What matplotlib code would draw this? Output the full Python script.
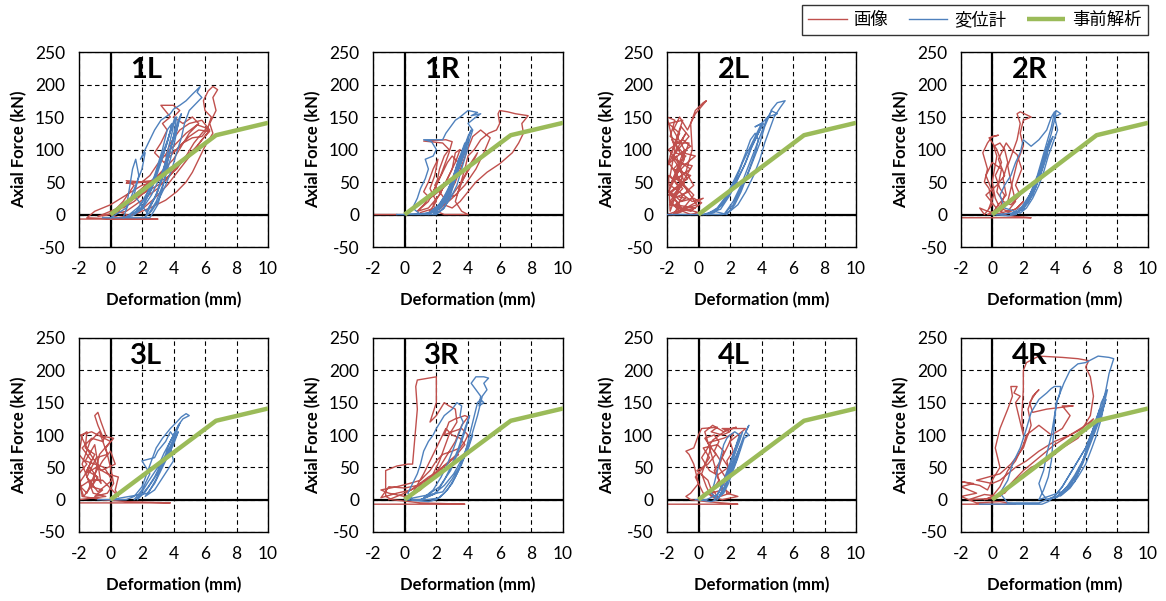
import matplotlib
matplotlib.use('Agg')
import matplotlib.pyplot as plt

plt.rcParams['font.family'] = ['Lato', 'Noto Sans CJK JP', 'DejaVu Sans']
plt.rcParams['axes.unicode_minus'] = False

# ---- data (deformation mm, axial force kN) ----
panel_names = ['1L', '1R', '2L', '2R', '3L', '3R', '4L', '4R']

analysis_x = [0, 6.7, 10]
analysis_y = [0, 122, 141]

nan = float('nan')

red_1L = [(-2,-7),(3,-7),(0.5,-7),(-1.5,-5),(-1,5),(0,15),(1,30),(2,45),(2.8,50),(3.5,55),(4.2,70),(4.8,90),
          (5.3,110),(5.8,125),(6.2,135),(6.4,150),(6.0,160),(5.9,175),(6.2,190),(6.5,197),(6.8,192),(6.5,180),
          (6.7,160),(6.3,140),(6.5,125),(6.0,105),(5.6,85),(5.2,65),(4.8,50),(4.2,35),(3.5,22),(2.5,10),(1.5,0),
          (0.5,-5),(0,0),(0.8,20),(1.5,45),(1,52),(2,50),(2.5,60),(3.0,78),(3.6,95),(4.2,110),(4.8,125),(5.5,138),
          (6.2,132),(5.8,120),(5.2,118),(4.6,110),(4.0,95),(3.4,80),(2.8,95),(3.2,110),(3.6,130),(3.3,140),
          (3.8,150),(3.2,168),(4.0,168),(4.4,160),(4.0,150),(4.6,140),(5.2,150),(5.6,140),(5.0,125),(4.5,105),
          (4.0,85),(3.2,65),(2.5,45),(1.8,30),(1.0,15),(0.2,2),(-0.8,-3),(0.5,10),(1.5,25),(2.5,38),(3.5,52),
          (4.5,80),(5.5,100),(6.0,110),(5.2,95),(4.4,70),(3.6,45),(2.8,25),(2.0,8),(1.2,-2),(0.5,5),(1.5,30),
          (2.5,50),(1.0,48),(2.6,52),(3.5,70),(3.0,55),(2.2,35),(1.5,20),(0.8,10),(2.0,40),(3.0,60),(4.0,75),
          (5.0,90),(5.8,115),(6.3,128),(5.6,130),(5.0,120),(4.2,100),(3.5,90),(3.8,110),(4.4,130),(5.0,140),
          (5.8,145),(6.3,130),(5.5,105),(4.6,85),(3.8,62),(3.0,40),(2.0,22),(1.0,5),(-0.5,-2)]
blue_1L = [(-0.5,-5),(2.5,-5),(3.0,15),(3.4,50),(3.7,90),(4.0,120),(4.3,145),(4.5,155),(4.2,130),(3.8,100),
           (3.2,60),(2.6,30),(2.0,8),(1.4,-2),(0.8,-5),(1.2,20),(1.6,45),(2.0,70),(2.2,95),(1.9,85),(2.4,110),
           (2.8,130),(3.2,145),(3.8,155),(4.0,162),(4.4,168),(4.8,175),(5.2,185),(5.7,197),(5.5,188),(5.8,180),
           (5.4,170),(5.0,160),(4.7,140),(4.5,118),(4.2,95),(3.9,70),(3.5,45),(3.0,20),(2.6,5),(2.2,-4),(2.9,30),
           (3.3,60),(3.6,95),(3.9,125),(4.1,150),(3.8,128),(3.4,95),(3.0,65),(2.6,38),(2.0,12),(1.5,0),(2.2,25),
           (2.8,60),(3.3,100),(3.6,130),(3.9,140),(3.6,110),(3.1,75),(2.5,40),(1.8,12),(1.0,-4),(2.0,10),
           (2.6,40),(3.0,70),(3.4,100),(3.7,120),(3.9,135),(4.2,150),(4.0,120),(3.7,90),(3.3,55),(2.8,25),
           (2.3,5),(3.0,35),(3.5,75),(3.9,110),(4.3,140),(4.1,115),(3.8,85),(3.4,50),(2.9,20),(2.4,0),(1.5,30),
           (1.8,60),(1.6,85),(1.4,70),(1.2,40),(1.0,10),(0.0,-5)]

red_1R = [(-2,0),(-0.5,0),(nan,nan),(0.8,5),(1.5,20),(2.0,45),(2.2,70),(2.5,90),(2.8,100),(2.4,110),(1.2,113),
          (2.6,115),(3.0,112),(2.8,95),(2.5,75),(2.2,55),(1.8,35),(1.2,15),(0.8,5),(1.5,10),(2.2,30),(2.6,50),
          (3.0,70),(3.2,95),(3.5,100),(3.2,80),(2.8,60),(2.3,35),(1.8,15),(2.0,5),(2.5,0),(4.0,0),(3.6,5),
          (3.2,20),(3.5,45),(3.8,70),(4.0,90),(4.4,100),(4.8,115),(5.3,125),(5.8,130),(6.0,140),(5.9,155),
          (6.0,160),(6.5,158),(7.0,155),(7.8,152),(7.4,140),(7.5,125),(7.2,110),(6.8,95),(6.0,78),(5.2,65),
          (4.5,50),(4.0,35),(3.5,20),(3.0,10),(2.5,15),(2.8,30),(3.2,50),(3.6,75),(3.9,95),(4.3,120),(4.8,130),
          (5.4,118),(5.0,95),(4.5,70),(3.8,45),(3.0,25),(2.2,8),(1.5,2),(2.0,20),(1.6,40),(1.9,60),(2.1,85),
          (1.8,70),(1.5,50),(1.2,35),(1.6,25),(2.4,40),(3.0,55),(3.4,80),(3.0,90),(2.7,80),(2.3,60),(1.9,45),
          (2.5,25),(3.3,30),(3.7,55),(4.2,80),(4.6,95),(4.2,75),(3.6,50),(3.0,30),(2.2,12),(1.0,3)]
blue_1R = [(-0.5,0),(1.5,0),(2.0,0),(2.5,10),(2.9,30),(3.2,55),(3.5,80),(3.8,100),(4.0,115),(3.8,95),(3.4,70),
           (3.0,45),(2.5,20),(2.0,5),(1.0,0),(0.5,10),(0.8,25),(1.0,40),(1.3,55),(1.5,70),(1.3,85),(1.8,90),
           (2.0,100),(1.7,112),(1.2,115),(2.4,115),(2.6,125),(2.9,135),(3.2,145),(3.5,150),(4.0,160),(4.6,157),
           (4.2,152),(4.8,155),(4.4,148),(4.0,140),(4.3,130),(4.1,115),(3.9,95),(3.6,70),(3.3,45),(2.9,25),
           (2.4,8),(1.8,0),(2.6,20),(3.0,45),(3.4,75),(3.7,100),(4.0,120),(4.2,130),(3.9,110),(3.6,85),(3.2,55),
           (2.8,30),(2.3,10),(1.5,0),(2.2,15),(2.7,35),(3.1,60),(3.5,90),(3.8,110),(3.6,90),(3.2,65),(2.8,40),
           (2.4,20),(1.9,5),(2.5,28),(3.0,52),(3.4,85),(3.9,105),(3.5,75),(3.0,48),(2.5,22),(1.5,2),(0,0)]

red_2L = [(-2,0),(-1.5,0),(-1,5),(-0.5,0),(0,3),(-1.8,15),(-1.2,40),(-1.8,60),(-1.5,100),(-2,150),(-1.5,145),
          (-1.8,120),(-1.2,110),(-0.8,125),(-1.5,95),(-0.8,90),(-1.6,70),(-0.5,60),(-1.2,45),(-1.9,30),(-0.8,25),
          (-1.5,15),(-0.2,10),(-1.2,5),(-1.8,20),(-1.0,50),(-0.4,75),(-1.3,80),(-1.9,100),(-1.0,115),(-0.5,105),
          (-1.6,85),(-0.7,55),(-1.8,35),(-1.1,20),(-0.3,25),(0.2,18),(-0.5,5),(-1.4,10),(-1.0,30),(-0.3,45),
          (-0.8,65),(-0.4,100),(-0.5,140),(-0.2,160),(0.3,172),(0.5,175),(-0.2,155),(-0.7,130),(-1.2,150),
          (-1.6,130),(-0.9,100),(-1.7,50),(-1.0,60),(-1.8,5),(-1.9,60),(-1.0,40),(-1.6,25),(-0.6,35),(-1.4,55),
          (-0.5,70),(-1.8,90),(-1.2,125),(-1.9,140),(-1.0,145),(-1.5,110),(-0.6,110),(-1.2,75),(-1.8,45),
          (-0.4,20),(0.3,25),(-0.8,10),(-1.6,0),(-1.2,15),(-1.9,35),(-1.3,65),(-0.9,85),(-1.7,115),(-1.0,95),
          (-0.2,90),(-0.7,80),(-1.5,60),(-0.3,30),(-1.0,8),(-1.7,28),(-0.9,48),(-1.4,90),(-2,75),(-1.1,135),
          (-0.6,120),(-1.3,100),(-1.9,80),(-0.8,40),(-0.1,15),(-2,0)]
blue_2L = [(-2,0),(0,0),(1.5,0),(2.0,5),(2.5,15),(3.0,35),(3.5,60),(3.9,85),(4.2,110),(4.5,130),(4.8,150),
           (5.2,165),(5.5,175),(5.0,172),(4.6,160),(5.0,155),(4.4,150),(4.0,140),(3.6,135),(4.0,140),(3.6,120),
           (3.2,100),(2.8,80),(2.4,55),(2.0,35),(1.5,15),(1.0,3),(0.5,0),(1.2,10),(1.8,30),(2.2,50),(2.6,70),
           (3.0,95),(3.3,115),(3.6,125),(3.8,115),(3.6,95),(3.3,75),(3.0,55),(2.6,35),(2.2,15),(1.7,3),(2.2,20),
           (2.7,45),(3.1,70),(3.5,95),(3.9,120),(4.3,145),(4.6,158),(4.2,135),(3.9,110),(3.5,85),(3.1,60),
           (2.7,35),(2.3,15),(1.8,0),(1.0,5),(1.8,25),(2.4,50),(2.9,75),(3.3,100),(3.7,120),(4.1,140),(3.8,125),
           (3.4,105),(3.0,80),(2.5,55),(2.0,30),(1.4,8),(0.3,0)]

red_2R = [(-2,-5),(2.5,-5),(1.5,-3),(0.5,0),(-0.3,5),(-0.8,10),(-0.5,0),(0,15),(-0.2,40),(-0.5,50),(-0.3,70),
          (-0.6,95),(-0.3,110),(0,120),(0.4,122),(-0.2,118),(0.3,100),(0.6,80),(0.2,60),(0.5,40),(0.8,30),
          (0.5,10),(1.0,5),(1.5,20),(1.2,50),(1.0,75),(1.3,95),(1.6,115),(1.8,140),(1.6,155),(1.8,158),
          (2.5,150),(2.0,145),(1.8,125),(2.0,105),(1.6,80),(1.4,60),(1.2,40),(1.0,20),(0.6,5),(0.2,25),(0.0,50),
          (0.3,90),(0.1,105),(0.5,110),(0.8,100),(1.0,80),(0.7,55),(0.9,30),(0.4,15),(0.1,5),(-0.3,0),(0.5,2),
          (1.5,8),(2.0,20),(1.6,10),(0.8,0),(0.2,12),(-0.4,30),(0.3,45),(0.8,60),(0.4,85),(0.9,110),(1.2,100),
          (1.6,92),(1.9,70),(1.5,45),(1.8,30),(1.2,15),(0.7,20),(0.3,35),(0.6,70),(0.0,80),(-0.4,60),(0.1,30),
          (-0.2,10)]
blue_2R = [(0,0),(1.0,-2),(1.5,0),(2.0,10),(2.5,30),(2.9,55),(3.2,80),(3.5,100),(3.8,125),(4.0,145),(4.1,160),
           (4.4,155),(4.0,150),(4.2,130),(3.9,110),(3.6,90),(3.3,65),(3.0,45),(2.6,25),(2.2,10),(1.8,2),(0.8,10),
           (0.5,30),(0.8,45),(1.2,60),(1.5,80),(1.8,95),(2.0,115),(2.5,105),(3.0,115),(3.5,130),(3.8,150),
           (4.0,158),(3.8,135),(3.5,110),(3.2,85),(2.9,60),(2.5,35),(2.1,15),(1.5,0),(2.3,20),(2.7,45),(3.1,70),
           (3.4,95),(3.7,115),(3.5,90),(3.1,60),(2.6,30),(2.0,8),(1.2,0),(1.9,12),(2.4,30),(2.8,50),(3.2,75),
           (3.6,105),(3.9,120),(3.6,100),(3.2,70),(2.8,42),(2.3,18),(1.6,3),(0.3,0)]

red_3L = [(-2,-5),(3.8,-5),(1.0,-3),(-0.5,0),(-1.8,5),(-2,40),(-1.5,55),(-2,70),(-1.8,100),(-1.5,105),
          (-1.6,80),(-1.0,70),(-1.5,45),(-0.8,35),(-1.2,20),(-0.5,15),(-1.0,5),(-0.2,10),(0.2,25),(0,50),
          (-0.3,80),(0.2,95),(-0.5,98),(-0.8,115),(-1.0,130),(-0.8,135),(-0.6,120),(-0.3,100),(-0.5,90),
          (-1.2,95),(-1.8,80),(-1.2,60),(-1.6,40),(-0.9,50),(-0.2,40),(0.5,35),(0.3,15),(0.5,5),(-0.5,30),
          (-1.3,30),(-1.9,20),(-1.5,10),(-1.0,40),(-0.5,60),(0.0,75),(0.3,55),(-0.6,45),(-1.4,75),(-1.9,100),
          (-1.2,105),(-0.4,95),(0.0,90),(-0.7,70),(-1.1,25),(-1.7,5),(-2,25),(-1.3,50),(-0.6,25),(-1.0,85),
          (-1.6,60),(-0.4,50),(0.1,30),(-0.8,12),(-1.5,35),(-0.9,65),(-0.2,70),(-0.7,105),(-1.3,90),(-1.8,55),
          (-1.1,10),(-0.3,5),(-2,0)]
blue_3L = [(-0.8,0),(1.0,0),(1.5,5),(2.0,20),(2.3,40),(2.6,60),(2.9,80),(3.3,95),(3.8,110),(4.2,120),(4.5,128),
           (4.8,133),(5.0,130),(4.6,125),(4.3,115),(4.0,100),(3.7,85),(3.5,70),(3.2,55),(2.8,35),(2.4,20),
           (2.0,8),(1.5,0),(2.0,15),(2.5,40),(2.0,60),(2.8,65),(3.0,75),(3.5,90),(3.8,105),(4.1,95),(3.8,80),
           (4.0,60),(3.6,45),(3.2,30),(2.8,15),(2.2,5),(2.8,25),(3.2,45),(3.6,65),(4.0,85),(4.3,105),(4.0,90),
           (3.6,70),(3.2,50),(2.7,30),(2.2,12),(1.7,0),(2.4,28),(3.0,50),(3.4,72),(3.9,95),(4.4,118),(4.1,100),
           (3.7,78),(3.3,55),(2.9,32),(2.4,10),(0,0)]

red_3R = [(-2,-7),(3.8,-7),(1.0,-5),(-0.8,0),(-1.2,5),(-1.2,45),(-0.5,52),(0.2,55),(0.5,55),(0.8,140),
          (0.7,175),(0.8,185),(2.0,190),(2.0,150),(1.6,120),(2.0,130),(2.5,150),(2.8,145),(3.2,140),(3.3,120),
          (2.8,100),(2.5,80),(2.2,60),(1.8,40),(1.4,25),(1.0,15),(0.5,8),(0,5),(-1.0,10),(-1.5,15),(-0.5,20),
          (0.3,25),(1.0,30),(1.6,45),(2.0,60),(2.4,70),(3.0,75),(3.5,80),(3.8,90),(4.0,100),(3.6,110),(3.0,105),
          (2.5,100),(2.8,120),(3.2,125),(3.8,130),(4.0,128),(3.6,115),(3.2,90),(2.7,70),(2.2,50),(1.6,30),
          (1.0,20),(0.5,10),(1.2,40),(1.8,70),(2.3,95),(2.6,110),(3.0,100),(3.5,95),(3.8,85),(3.3,70),(2.6,55),
          (1.9,40),(1.2,25),(0.4,15),(-0.5,10),(-1.5,3),(-1.0,20),(0.0,18),(0.8,22),(1.5,35),(2.2,45),(2.9,60),
          (3.4,70),(3.0,62),(2.4,50),(1.7,35),(1.0,25),(0.2,12),(-1.0,0)]
blue_3R = [(0,0),(1.5,-3),(2.0,0),(2.5,10),(3.0,25),(3.4,45),(3.8,70),(4.0,90),(4.2,110),(4.4,130),(4.6,150),
           (4.8,155),(5.0,150),(4.7,145),(4.8,160),(4.5,170),(4.2,180),(4.5,190),(5.0,190),(5.3,188),(5.0,180),
           (5.2,170),(4.9,160),(4.6,130),(4.3,105),(4.0,80),(3.6,55),(3.2,35),(2.7,15),(2.2,3),(1.5,0),(0.5,0),
           (0.2,10),(0.5,25),(0.8,40),(1.0,55),(1.2,75),(1.5,90),(1.8,100),(2.0,110),(2.5,130),(3.0,140),
           (3.3,150),(3.6,145),(3.5,130),(3.7,120),(3.4,100),(3.1,80),(2.7,55),(2.3,35),(1.8,15),(1.2,3),
           (2.2,20),(2.9,45),(3.4,75),(3.8,105),(4.1,130),(3.8,110),(3.4,80),(3.0,55),(2.5,30),(2.0,10),(1.0,0),
           (1.8,8),(2.5,22),(3.1,40),(3.6,62),(4.0,85),(4.3,100),(4.0,78),(3.5,52),(3.0,32),(2.4,12),(0,0)]

red_4L = [(-2,-7),(2.5,-7),(1.5,-5),(0.5,-3),(-0.5,0),(-0.8,5),(-0.5,10),(0,25),(-0.3,55),(-0.6,70),(-0.8,75),
          (-0.3,80),(0.0,100),(0.2,110),(1.2,112),(0.8,105),(1.5,100),(2.0,105),(1.5,110),(3.0,110),(2.5,100),
          (2.0,90),(2.2,75),(1.8,60),(2.0,40),(1.6,25),(1.8,10),(2.5,5),(1.5,0),(0.8,5),(0.5,20),(0.2,40),
          (0.5,60),(0.8,80),(0.4,95),(1.0,100),(1.3,90),(1.0,75),(1.4,60),(1.0,45),(1.3,30),(0.9,15),(1.2,5),
          (0.3,10),(-0.2,35),(0.3,50),(0.7,65),(0.3,80),(1.2,85),(1.6,75),(1.3,50),(1.7,35),(1.4,20),(2.0,10),
          (1.0,2),(0.6,30),(-0.1,45),(0.6,55),(1.1,70),(0.6,88),(1.6,95),(2.2,102),(1.9,85),(1.5,65),(1.9,50),
          (1.2,38),(0.7,45),(0.2,65),(0.9,92),(1.8,108),(2.4,112),(1.6,105),(0.9,115),(0.4,105),(1.0,55),
          (1.5,15),(0.5,8),(0,0)]
blue_4L = [(0,0),(0.8,-3),(1.2,0),(1.5,10),(1.8,25),(2.0,40),(2.3,60),(2.6,80),(2.9,100),(3.1,110),(3.2,115),
           (3.0,105),(3.2,100),(2.9,95),(2.7,80),(2.5,65),(2.2,45),(1.9,25),(1.6,10),(1.2,2),(0.8,10),(1.0,25),
           (1.2,45),(1.4,65),(1.6,85),(1.8,95),(2.0,100),(2.3,105),(2.6,100),(2.4,85),(2.2,70),(1.9,50),
           (1.6,30),(1.3,12),(1.0,0),(1.5,20),(1.9,45),(2.2,70),(2.5,90),(2.8,105),(2.6,90),(2.3,70),(2.0,45),
           (1.7,20),(1.3,5),(1.6,18),(2.0,38),(2.4,60),(2.7,85),(2.4,68),(2.0,48),(1.6,25),(1.2,8),(0.5,0),
           (-0.2,0)]

red_4R = [(-2,-7),(1.5,-7),(0.5,-3),(-1.0,-5),(-2,5),(-1.0,10),(-2,20),(-1.2,25),(-2,28),(-0.8,22),(-0.3,15),
          (0,30),(0.5,50),(0.2,80),(0.5,110),(1.0,140),(1.3,160),(1.2,175),(1.6,175),(1.4,165),(1.8,160),
          (1.5,150),(1.8,120),(2.0,100),(1.9,130),(2.0,170),(2.0,200),(2.2,212),(3.0,222),(4.5,220),(5.5,218),
          (6.2,215),(6.0,205),(6.3,190),(6.5,160),(6.3,130),(5.8,110),(5.0,100),(4.0,90),(3.0,75),(2.2,60),
          (1.5,50),(1.0,40),(0.5,30),(0.0,25),(-1.0,30),(0.5,40),(1.2,55),(2.0,80),(2.5,115),(2.3,140),
          (2.6,160),(3.0,170),(2.8,165),(2.4,150),(2.6,135),(3.5,140),(5.2,145),(4.5,145),(5.0,130),(4.5,110),
          (3.8,100),(3.0,115),(2.2,100),(2.0,85),(1.5,60),(1.0,45),(0.5,20),(0,5),(-0.5,0),(0.8,10),(1.5,30),
          (2.5,50),(3.5,60),(4.5,80),(5.5,95),(6.0,110),(6.5,125),(6.0,115),(5.0,100),(4.0,85),(3.0,65),
          (2.0,45),(1.2,25),(0.5,5),(-0.5,8),(-1.5,0),(0.2,2)]
blue_4R = [(-0.8,-7),(3.2,-7),(3.6,-3),(4.0,5),(4.5,20),(5.0,40),(5.5,60),(6.0,80),(6.5,110),(6.8,130),
           (7.0,150),(7.2,160),(7.4,170),(7.2,150),(7.0,125),(6.7,100),(6.4,80),(6.0,55),(5.5,35),(5.0,18),
           (4.5,8),(4.0,2),(4.5,12),(5.2,30),(5.8,55),(6.2,80),(6.6,105),(7.0,130),(7.3,155),(7.0,135),
           (6.6,110),(6.2,85),(5.8,60),(5.3,38),(4.8,20),(4.2,5),(3.5,0),(3.2,10),(3.0,25),(3.3,45),(3.5,70),
           (3.8,100),(4.0,130),(4.2,155),(4.6,180),(5.0,200),(5.5,210),(6.0,212),(6.8,222),(7.5,220),(7.8,218),
           (7.5,195),(7.3,170),(7.0,140),(6.5,110),(6.0,80),(5.5,60),(5.0,40),(4.5,20),(4.0,5),(3.0,-5),
           (1.0,-5),(0.5,10),(1.0,30),(1.3,55),(1.8,80),(2.2,110),(2.5,135),(3.0,155),(3.5,165),(3.8,172),
           (4.0,175),(4.4,175),(4.3,160),(4.1,150),(4.0,120),(3.9,90),(3.8,60),(3.6,35),(3.3,15),(3.0,0),
           (4.8,15),(5.6,45),(6.3,95),(6.9,140),(6.6,120),(6.0,70),(5.3,28),(4.4,6)]

red_series = [red_1L, red_1R, red_2L, red_2R, red_3L, red_3R, red_4L, red_4R]
blue_series = [blue_1L, blue_1R, blue_2L, blue_2R, blue_3L, blue_3R, blue_4L, blue_4R]

x_ticks = [-2, 0, 2, 4, 6, 8, 10]
y_ticks = [-50, 0, 50, 100, 150, 200, 250]

RED = '#C0504D'
BLUE = '#4F81BD'
GREEN = '#9BBB59'

W, H = 1166, 601
fig = plt.figure(figsize=(W / 100, H / 100), dpi=100)

col_left = [79, 373, 667, 961]
col_width = [189, 190, 189, 187]
row_top = [52, 338]
row_height = [195, 194]

for i, name in enumerate(panel_names):
    r, c = divmod(i, 4)
    left = col_left[c] / W
    bottom = 1 - (row_top[r] + row_height[r]) / H
    ax = fig.add_axes([left, bottom, col_width[c] / W, row_height[r] / H])

    ax.set_xlim(-2, 10)
    ax.set_ylim(-50, 250)
    ax.set_xticks(x_ticks)
    ax.set_yticks(y_ticks)
    ax.tick_params(length=0, labelsize=12.5, pad=10)
    ax.grid(True, color='black', linestyle=(0, (4, 3)), linewidth=0.8, zorder=0)
    for s in ax.spines.values():
        s.set_linewidth(1.0)
    ax.axhline(0, color='black', lw=1.6, zorder=1)
    ax.axvline(0, color='black', lw=1.6, zorder=1)

    rx, ry = zip(*red_series[i])
    bx, by = zip(*blue_series[i])
    ax.plot(rx, ry, color=RED, lw=1.0, zorder=2, label='画像')
    ax.plot(bx, by, color=BLUE, lw=1.0, zorder=3, label='変位計')
    ax.plot(analysis_x, analysis_y, color=GREEN, lw=3.2, zorder=4,
            solid_capstyle='butt', label='事前解析')

    ax.text(0.27, 0.867, name, transform=ax.transAxes, fontsize=21,
            fontweight='bold', va='baseline', ha='left')

    ax.set_ylabel('Axial Force (kN)', fontsize=12, fontweight='bold')
    ax.set_xlabel('Deformation (mm)', fontsize=12, fontweight='bold')
    ax.yaxis.set_label_coords(-60 / col_width[c], 0.5)
    ax.yaxis.label.set_va('center')
    ax.xaxis.set_label_coords(0.5, -53 / row_height[r])
    ax.xaxis.label.set_va('center')

    if i == 0:
        handles, labels = ax.get_legend_handles_labels()

leg = fig.legend(handles, labels, loc='upper right', bbox_to_anchor=(1148 / W, 1 - 5 / H),
                 ncol=3, frameon=True, fancybox=False, edgecolor='black',
                 handlelength=2.2, columnspacing=1.2, borderaxespad=0, borderpad=0.35,
                 handletextpad=0.4, prop={'family': ['Noto Sans CJK JP', 'DejaVu Sans'], 'size': 12.5})
leg.get_frame().set_linewidth(1.0)

fig.savefig('out.png', dpi=100)
